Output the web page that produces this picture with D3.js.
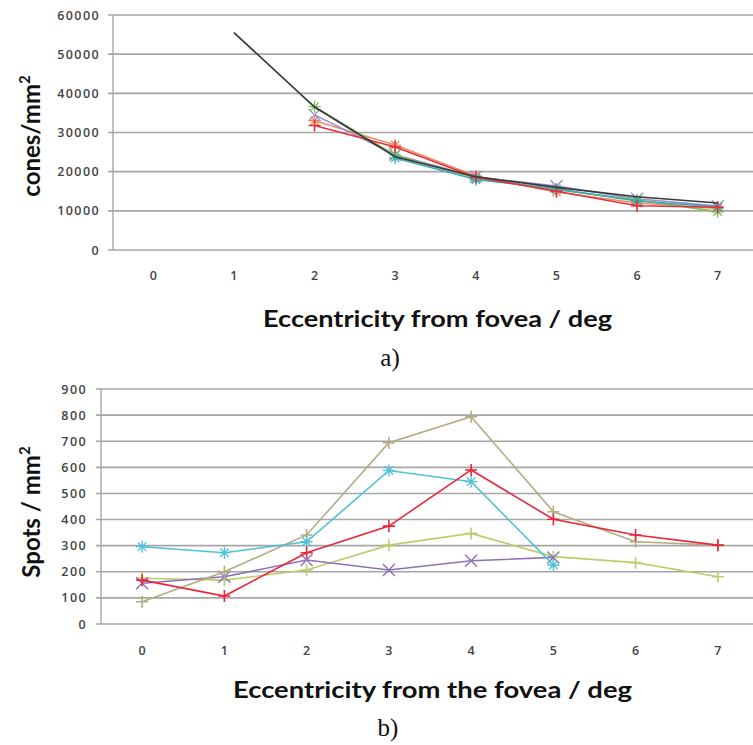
<!DOCTYPE html>
<html><head><meta charset="utf-8">
<script src="https://cdn.jsdelivr.net/npm/d3@7"></script>
<style>
html,body{margin:0;padding:0;background:#fff;}
svg{display:block;}
</style></head>
<body>
<svg id="chart" width="753" height="745"></svg>
<script>
// ---------- data ----------
const categories = [0, 1, 2, 3, 4, 5, 6, 7];

// panel a) cone density (cones/mm^2)
const conesTicks = [0, 10000, 20000, 30000, 40000, 50000, 60000];
const conesModel  = [null, 55500, 36500, 23800, 18700, 16000, 13600, 12000];
const conesRed    = [null, null, 31800, 26300, 18600, 15000, 11300, 10900];
const conesOrange = [null, null, 33000, 26800, 18900, 14800, 12000, 10600];
const conesGreen  = [null, null, 36600, 24200, 18400, 15400, 12800, 9800];
const conesCyan   = [null, null, null, 23500, 18000, 15600, 12500, 11000];
const conesPurple = [null, null, 34500, 24300, 18700, 16300, 13100, 11200];

// panel b) spot density (spots/mm^2)
const spotsTicks = [0, 100, 200, 300, 400, 500, 600, 700, 800, 900];
const spotsCyan   = [296, 273, 315, 588, 545, 226, null, null];
const spotsTan    = [85, 200, 341, 694, 794, 430, 315, 302];
const spotsRed    = [168, 107, 273, 375, 590, 401, 341, 302];
const spotsLime   = [175, 168, 207, 302, 347, 258, 235, 181];
const spotsPurple = [156, 181, 245, 207, 242, 255, null, null];

// ---------- drawing ----------
const svg = d3.select("#chart");

function star(g, x, y, c, r) {
  g.append("path").attr("d", `M${x-r},${y}H${x+r}M${x},${y-r}V${y+r}M${x-r*0.7},${y-r*0.7}L${x+r*0.7},${y+r*0.7}M${x-r*0.7},${y+r*0.7}L${x+r*0.7},${y-r*0.7}`)
    .attr("stroke", c).attr("stroke-width", 1.3).attr("fill", "none");
}
function plus(g, x, y, c, r) {
  g.append("path").attr("d", `M${x-r},${y}H${x+r}M${x},${y-r}V${y+r}`)
    .attr("stroke", c).attr("stroke-width", 1.6).attr("fill", "none");
}
function cross(g, x, y, c, r) {
  g.append("path").attr("d", `M${x-r},${y-r}L${x+r},${y+r}M${x-r},${y+r}L${x+r},${y-r}`)
    .attr("stroke", c).attr("stroke-width", 1.4).attr("fill", "none");
}
const markers = {star, plus, cross};

function panel(cfg) {
  const g = svg.append("g");
  const x = d3.scaleBand().domain(categories).range(cfg.xRange).padding(0);
  const y = d3.scaleLinear().domain([0, d3.max(cfg.ticks)]).range(cfg.yRange);
  const cx = d => x(d) + x.bandwidth() / 2;

  // gridlines
  g.append("g").selectAll("line").data(cfg.ticks).join("line")
    .attr("x1", cfg.xRange[0] - 5).attr("x2", cfg.xRange[1])
    .attr("y1", d => y(d)).attr("y2", d => y(d))
    .attr("stroke", "#a6a6a6").attr("stroke-width", 1.6);
  // y axis line
  g.append("line").attr("x1", cfg.xRange[0]).attr("x2", cfg.xRange[0])
    .attr("y1", cfg.yRange[0]).attr("y2", cfg.yRange[1])
    .attr("stroke", "#a6a6a6").attr("stroke-width", 1.4);

  // y tick labels
  g.append("g").selectAll("text").data(cfg.ticks).join("text")
    .attr("x", cfg.yLabelX).attr("y", d => y(d) + 4.5)
    .attr("text-anchor", "end")
    .attr("font-family", "Open Sans, sans-serif").attr("font-size", 12.5)
    .attr("font-weight", 600).attr("letter-spacing", 1.4)
    .attr("fill", "#444").text(d => d);
  // x tick labels
  g.append("g").selectAll("text").data(categories).join("text")
    .attr("x", d => cx(d)).attr("y", cfg.xLabelY)
    .attr("text-anchor", "middle")
    .attr("font-family", "Open Sans, sans-serif").attr("font-size", 12.5)
    .attr("font-weight", 600)
    .attr("fill", "#444").text(d => d);

  // series
  const line = d3.line().defined(d => d[1] != null).x(d => cx(d[0])).y(d => y(d[1]));
  cfg.series.forEach(s => {
    const pts = categories.map((c, i) => [c, s.values[i]]);
    g.append("path").datum(pts).attr("d", line)
      .attr("fill", "none").attr("stroke", s.color).attr("stroke-width", s.width || 1.6);
    if (s.marker) {
      pts.filter(p => p[1] != null).forEach(p => markers[s.marker](g, cx(p[0]), y(p[1]), s.color, 6));
    }
  });

  // axis titles
  const yt = g.append("text")
    .attr("transform", `translate(${cfg.yTitleX},${cfg.yTitleY}) rotate(-90)`)
    .attr("text-anchor", "middle")
    .attr("font-family", "Lato, sans-serif").attr("font-weight", "bold")
    .attr("font-size", 24).attr("fill", "#111");
  yt.append("tspan").text(cfg.yTitle);
  yt.append("tspan").attr("dy", -10).attr("font-size", 15).text("2");

  g.append("text").attr("x", cfg.xTitleX).attr("y", cfg.xTitleY)
    .attr("font-family", "Lato, sans-serif").attr("font-weight", "bold")
    .attr("font-size", 23).attr("fill", "#111")
    .attr("textLength", cfg.xTitleW).attr("lengthAdjust", "spacingAndGlyphs")
    .text(cfg.xTitle);

  g.append("text").attr("x", cfg.tagX).attr("y", cfg.tagY)
    .attr("text-anchor", "middle")
    .attr("font-family", "Liberation Serif, serif")
    .attr("font-size", 25).attr("fill", "#111").text(cfg.tag);
}

panel({
  xRange: [113, 758], yRange: [250, 15], ticks: conesTicks,
  yLabelX: 100, xLabelY: 280,
  series: [
    {values: conesOrange, color: "#e9906a", marker: "star"},
    {values: conesPurple, color: "#9d8ccc", marker: "cross"},
    {values: conesGreen, color: "#7cbf5a", marker: "star"},
    {values: conesCyan, color: "#3aa9b4", marker: "star"},
    {values: conesRed, color: "#e8303a", marker: "plus"},
    {values: conesModel, color: "#3a3a3a", width: 1.7}
  ],
  yTitle: "cones/mm", yTitleX: 40, yTitleY: 136,
  xTitle: "Eccentricity from fovea / deg", xTitleX: 263, xTitleY: 327, xTitleW: 349,
  tag: "a)", tagX: 390, tagY: 366
});

panel({
  xRange: [101, 759], yRange: [624, 389], ticks: spotsTicks,
  yLabelX: 87, xLabelY: 655,
  series: [
    {values: spotsLime, color: "#bccd6e", marker: "plus"},
    {values: spotsPurple, color: "#8b72b8", marker: "cross"},
    {values: spotsTan, color: "#b5ab82", marker: "plus"},
    {values: spotsCyan, color: "#4cc2d6", marker: "star"},
    {values: spotsRed, color: "#e8263a", marker: "plus"}
  ],
  yTitle: "Spots / mm", yTitleX: 40, yTitleY: 512,
  xTitle: "Eccentricity from the fovea / deg", xTitleX: 233, xTitleY: 698, xTitleW: 399,
  tag: "b)", tagX: 388, tagY: 736
});
</script>
</body></html>
